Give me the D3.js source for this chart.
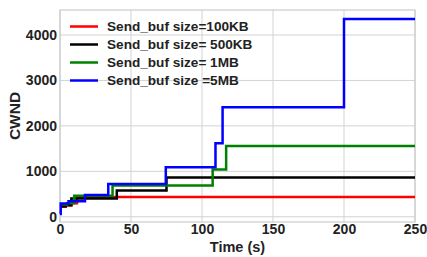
<!DOCTYPE html>
<html>
<head>
<meta charset="utf-8">
<script src="https://cdn.jsdelivr.net/npm/d3@7"></script>
<style>
  body { margin: 0; background: #fff; }
  text { font-family: "Liberation Sans", Arial, sans-serif; font-weight: bold; fill: #222; }
</style>
</head>
<body>
<div id="chart"></div>
<script>
(function() {
    'use strict';

    // series data (time in s, CWND), drawn as post-steps
    var labels = ['Send_buf size=100KB', 'Send_buf size= 500KB', 'Send_buf size= 1MB', 'Send_buf size =5MB'];
    var colors = ['#ff0000', '#000000', '#008000', '#0000ff'];

    var redT   = [0, 4, 8, 12, 250];
    var redV   = [220, 250, 300, 434, 434];
    var blackT = [0, 4, 8, 40, 75, 250];
    var blackV = [230, 260, 400, 580, 865, 865];
    var greenT = [0, 5, 10, 37, 107.5, 117, 250];
    var greenV = [270, 300, 460, 690, 1040, 1555, 1555];
    var blueT  = [0, 0.5, 6, 17.6, 34, 74.5, 109.5, 114.5, 200, 250];
    var blueV  = [60, 290, 340, 480, 720, 1090, 1620, 2410, 4350, 4350];

    var xTicks = [0, 50, 100, 150, 200, 250];
    var yTicks = [0, 1000, 2000, 3000, 4000];

    var series = [[redT, redV], [blackT, blackV], [greenT, greenV], [blueT, blueV]];

    var width = 427, height = 257;
    var left = 60, right = 415, top = 10, bottom = 222;

    var x = d3.scaleLinear().domain([0, 250]).range([left, right]);
    var y = d3.scaleLinear().domain([-115, 4550]).range([bottom, top]);

    var svg = d3.select('#chart')
      .append('svg')
        .attr('width', width)
        .attr('height', height);

    svg.append('rect')
        .attr('width', width)
        .attr('height', height)
        .attr('fill', 'white');

    // grid
    svg.append('g').selectAll('line.vx')
        .data(xTicks)
      .enter().append('line')
        .attr('x1', function(d) { return x(d); })
        .attr('x2', function(d) { return x(d); })
        .attr('y1', top).attr('y2', bottom)
        .attr('stroke', '#d3d3d3').attr('stroke-width', 1);
    svg.append('g').selectAll('line.hy')
        .data(yTicks)
      .enter().append('line')
        .attr('y1', function(d) { return y(d); })
        .attr('y2', function(d) { return y(d); })
        .attr('x1', left).attr('x2', right)
        .attr('stroke', '#d3d3d3').attr('stroke-width', 1);

    // frame
    svg.append('rect')
        .attr('x', left).attr('y', top)
        .attr('width', right - left).attr('height', bottom - top)
        .attr('fill', 'none')
        .attr('stroke', '#cccccc').attr('stroke-width', 1.2);

    // axes (labels only, no tick marks)
    var xAxis = svg.append('g')
        .attr('transform', 'translate(0,' + (bottom - 2) + ')')
        .call(d3.axisBottom(x).tickValues(xTicks).tickSize(0).tickPadding(4).tickFormat(d3.format('d')));
    var yAxis = svg.append('g')
        .attr('transform', 'translate(' + (left - 3) + ',0)')
        .call(d3.axisLeft(y).tickValues(yTicks).tickSize(0).tickPadding(0).tickFormat(d3.format('d')));
    [xAxis, yAxis].forEach(function(a) {
        a.select('.domain').remove();
        a.selectAll('text')
            .attr('font-family', '"Liberation Sans", Arial, sans-serif')
            .attr('font-size', 14)
            .attr('font-weight', 'bold')
            .attr('fill', '#222');
    });

    // lines
    var line = d3.line()
        .x(function(d) { return x(d[0]); })
        .y(function(d) { return y(d[1]); })
        .curve(d3.curveStepAfter);

    series.forEach(function(s, i) {
        var pts = s[0].map(function(t, j) { return [t, s[1][j]]; });
        svg.append('path')
            .datum(pts)
            .attr('d', line)
            .attr('fill', 'none')
            .attr('stroke', colors[i])
            .attr('stroke-width', 2.5);
    });

    // legend
    labels.forEach(function(l, i) {
        var ly = 26.5 + i * 18;
        svg.append('line')
            .attr('x1', 70).attr('x2', 98)
            .attr('y1', ly).attr('y2', ly)
            .attr('stroke', colors[i])
            .attr('stroke-width', 2.5);
        svg.append('text')
            .attr('x', 107)
            .attr('y', ly)
            .attr('dy', '0.35em')
            .attr('font-size', 13.6)
            .text(l);
    });

    // axis titles
    svg.append('text')
        .attr('x', (left + right) / 2)
        .attr('y', 252)
        .attr('text-anchor', 'middle')
        .attr('font-size', 14.5)
        .text('Time (s)');
    svg.append('text')
        .attr('transform', 'translate(20,' + ((top + bottom) / 2) + ') rotate(-90)')
        .attr('text-anchor', 'middle')
        .attr('font-size', 15.5)
        .text('CWND');
}());
</script>
</body>
</html>
